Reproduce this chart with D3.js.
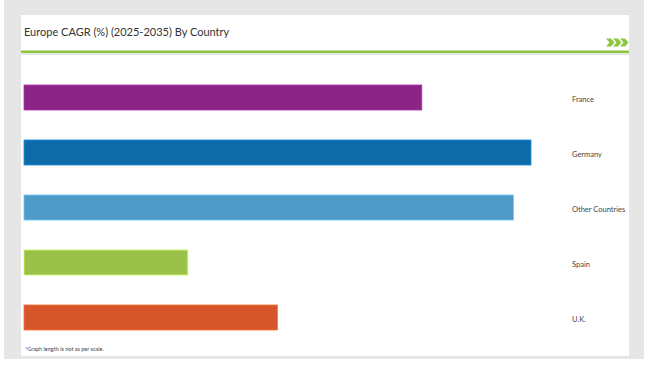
<!DOCTYPE html>
<html><head><meta charset="utf-8">
<script src="https://cdn.jsdelivr.net/npm/d3@7"></script>
<style>html,body{margin:0;padding:0;background:#fff;}svg{display:block;}</style>
</head><body>
<svg id="c" width="650" height="365"></svg>
<script>
const categories = ["France", "Germany", "Other Countries", "Spain", "U.K."];
const values = [4.08, 5.2, 5.02, 1.68, 2.6];
const colors = ["#8B2486", "#0F6BA8", "#4F9AC7", "#9BC14A", "#D4562A"];
const title = "Europe CAGR (%) (2025-2035) By Country";
const footnote = "*Graph length is not as per scale.";

const svg = d3.select("#c");
const font = "Lato, 'Open Sans', sans-serif";

svg.append("rect").attr("x", 4).attr("y", 0).attr("width", 640).attr("height", 359).attr("fill", "#e6e6e6");
// header panel
svg.append("rect").attr("x", 21).attr("y", 15).attr("width", 608).attr("height", 37).attr("fill", "#fff");
svg.append("rect").attr("x", 21).attr("y", 50.5).attr("width", 608).attr("height", 2.5).attr("fill", "#8cc63f");
// body panel
svg.append("rect").attr("x", 21).attr("y", 55).attr("width", 608).attr("height", 301).attr("fill", "#fff");

svg.append("text").attr("x", 24).attr("y", 36).attr("font-family", font).attr("font-size", 11)
  .attr("fill", "#333").text(title);

// chevrons
const chev = svg.append("g").attr("fill", "#8cc63f");
[0, 7, 14].forEach(dx => {
  chev.append("path").attr("d", `M${606+dx},38.5 L${611+dx},38.5 L${614.5+dx},42.5 L${611+dx},46.5 L${606+dx},46.5 L${609.5+dx},42.5 Z`);
});

const x = d3.scaleLinear().domain([0, 5.2]).range([24, 531]);
const y = d3.scaleBand().domain(categories).range([70, 345]).paddingInner(0.545).paddingOuter(0.2725);

svg.append("g").selectAll("rect").data(categories).join("rect")
  .attr("x", x(0)).attr("y", d => y(d))
  .attr("width", (d, i) => x(values[i]) - x(0))
  .attr("height", y.bandwidth())
  .attr("fill", (d, i) => colors[i])
  .attr("stroke", (d, i) => d3.color(colors[i]).brighter(0.8))
  .attr("stroke-width", 0.8);

svg.append("g").selectAll("text").data(categories).join("text")
  .attr("x", 572).attr("y", d => y(d) + y.bandwidth() / 2 + 4)
  .attr("font-family", font).attr("font-size", 7.5).attr("fill", "#444")
  .text(d => d);

svg.append("text").attr("x", 25).attr("y", 351).attr("font-family", font).attr("font-size", 5.5)
  .attr("fill", "#444").text(footnote);
</script>
</body></html>
